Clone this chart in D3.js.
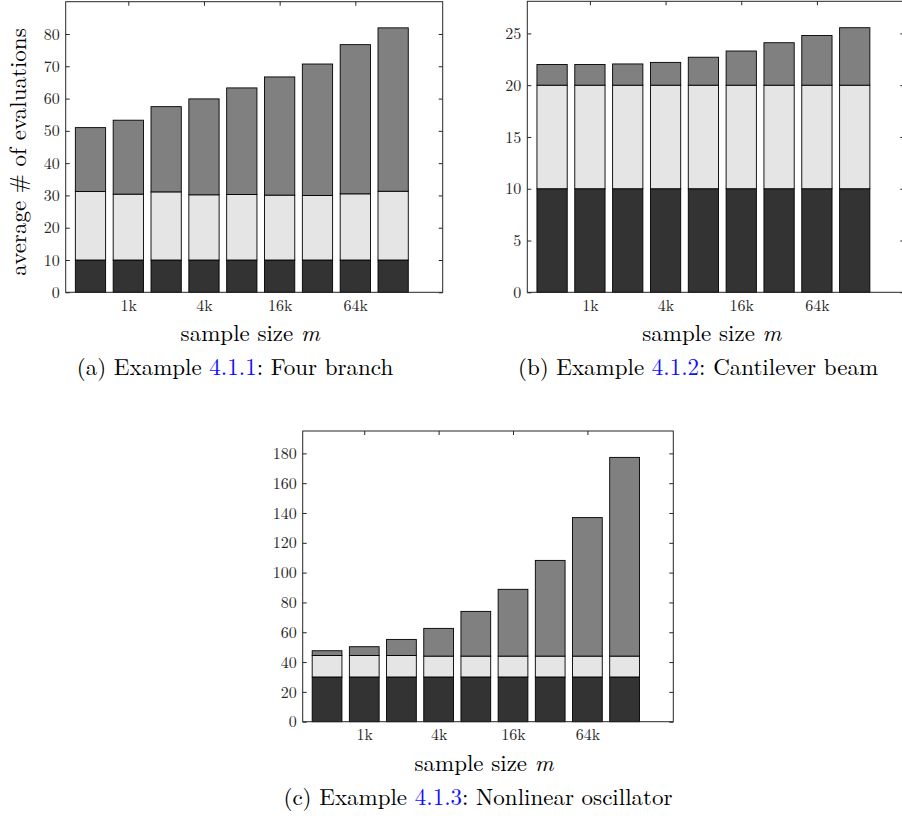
<!DOCTYPE html>
<html>
<head>
<meta charset="utf-8">
<script src="https://cdn.jsdelivr.net/npm/d3@7"></script>
<style>
  body { margin: 0; background: #fff; }
  svg { display: block; font-family: "Latin Modern Roman", "CMU Serif", "Liberation Serif", serif; }
  .axis { font-family: "Latin Modern Roman", "CMU Serif", "Liberation Serif", serif; }
  .axis text { fill: #262626; font-size: 16px; }
  .axis line { stroke: #262626; stroke-width: 1; }
</style>
</head>
<body>
<svg id="fig" width="902" height="818"></svg>
<script>
// one bar per sample size m = 512, 1k, 2k, ..., 128k
var positions = [1, 2, 3, 4, 5, 6, 7, 8, 9];
var tickPositions = [2, 4, 6, 8];
var tickLabels = ["1k", "4k", "16k", "64k"];

// (a) four branch: the three stacked parts of each bar
var fourBranch1 = [10, 10, 10, 10, 10, 10, 10, 10, 10];
var fourBranch2 = [21.2, 20.4, 21.1, 20.2, 20.3, 20.1, 20.0, 20.5, 21.3];
var fourBranch3 = [19.8, 22.9, 26.4, 29.7, 33.0, 36.6, 40.7, 46.2, 50.6];
var fourBranchTicks = [0, 10, 20, 30, 40, 50, 60, 70, 80];

// (b) cantilever beam
var cantilever1 = [10, 10, 10, 10, 10, 10, 10, 10, 10];
var cantilever2 = [10, 10, 10, 10, 10, 10, 10, 10, 10];
var cantilever3 = [2.0, 2.0, 2.05, 2.2, 2.7, 3.3, 4.1, 4.8, 5.55];
var cantileverTicks = [0, 5, 10, 15, 20, 25];

// (c) nonlinear oscillator
var oscillator1 = [30, 30, 30, 30, 30, 30, 30, 30, 30];
var oscillator2 = [14.4, 14.4, 14.4, 14.0, 14.0, 14.0, 14.0, 14.0, 14.0];
var oscillator3 = [3.2, 5.9, 10.8, 18.6, 30.0, 44.8, 64.2, 92.9, 133.3];
var oscillatorTicks = [0, 20, 40, 60, 80, 100, 120, 140, 160, 180];

var colors = ["#333333", "#e5e5e5", "#808080"];
var keys = ["p1", "p2", "p3"];

var svg = d3.select("#fig");

function rows(a, b, c) {
  return positions.map(function(p, i) {
    return {x: p, p1: a[i], p2: b[i], p3: c[i]};
  });
}

function panel(opt) {
  var w = opt.width, h = opt.height;
  var g = svg.append("g")
             .attr("transform", "translate(" + opt.left + "," + opt.top + ")");

  var x = d3.scaleLinear().domain([0.345, 10.31]).range([0, w]);
  var y = d3.scaleLinear().domain([0, opt.ymax]).range([h, 0]);

  // ticks point inward on all four sides
  g.append("g").attr("class", "axis")
   .call(d3.axisLeft(y).tickValues(opt.yticks).tickSizeInner(-4)
           .tickSizeOuter(0).tickPadding(6));
  g.append("g").attr("class", "axis")
   .attr("transform", "translate(" + w + ",0)")
   .call(d3.axisRight(y).tickValues(opt.yticks).tickSizeInner(-4)
           .tickSizeOuter(0).tickFormat(""));
  g.append("g").attr("class", "axis")
   .call(d3.axisTop(x).tickValues(tickPositions).tickSizeInner(-4)
           .tickSizeOuter(0).tickFormat(""));
  g.append("g").attr("class", "axis")
   .attr("transform", "translate(0," + h + ")")
   .call(d3.axisBottom(x).tickValues(tickPositions).tickSizeInner(-4)
           .tickSizeOuter(0).tickPadding(7)
           .tickFormat(function(d, i) { return tickLabels[i]; }));
  g.selectAll(".domain").remove();

  // stacked bars
  var series = d3.stack().keys(keys)(opt.data);
  var bw = x(1.4) - x(0.6);
  g.selectAll(".layer")
   .data(series)
   .enter().append("g")
   .attr("class", "layer")
   .attr("fill", function(d, i) { return colors[i]; })
   .selectAll("rect")
   .data(function(d) { return d; })
   .enter().append("rect")
   .attr("x", function(d) { return x(d.data.x) - bw / 2; })
   .attr("y", function(d) { return y(d[1]); })
   .attr("width", bw)
   .attr("height", function(d) { return y(d[0]) - y(d[1]); })
   .attr("stroke", "#000")
   .attr("stroke-width", 0.9);

  // axes box
  g.append("rect")
   .attr("width", w).attr("height", h)
   .attr("fill", "none")
   .attr("stroke", "#262626")
   .attr("stroke-width", 1);

  // x label
  var xl = g.append("text")
            .attr("x", w / 2 - 4).attr("y", h + 49)
            .attr("text-anchor", "middle")
            .style("font-size", "23px")
            .text("sample size ");
  xl.append("tspan").style("font-style", "italic").text("m");

  if (opt.ylabel) {
    g.append("text")
     .attr("transform", "translate(" + (26 - opt.left) + "," + (h / 2 + 5) + ") rotate(-90)")
     .attr("text-anchor", "middle")
     .style("font-size", "23px")
     .text(opt.ylabel);
  }

  // caption
  var cap = svg.append("text")
               .attr("x", opt.capX).attr("y", opt.top + h + 83)
               .attr("text-anchor", "middle")
               .style("font-size", "23px")
               .text(opt.capA);
  cap.append("tspan").attr("fill", "#1010ff").text(opt.capRef);
  cap.append("tspan").text(opt.capB);
}

panel({left: 65.7, top: 1.7, width: 377, height: 290.6, ymax: 90,
       yticks: fourBranchTicks, data: rows(fourBranch1, fourBranch2, fourBranch3),
       ylabel: "average # of evaluations",
       capX: 235, capA: "(a) Example ", capRef: "4.1.1", capB: ": Four branch"});

panel({left: 527.3, top: 1.3, width: 377, height: 291, ymax: 28.1,
       yticks: cantileverTicks, data: rows(cantilever1, cantilever2, cantilever3),
       capX: 698, capA: "(b) Example ", capRef: "4.1.2", capB: ": Cantilever beam"});

panel({left: 302.7, top: 431, width: 370.6, height: 290.7, ymax: 195,
       yticks: oscillatorTicks, data: rows(oscillator1, oscillator2, oscillator3),
       capX: 478, capA: "(c) Example ", capRef: "4.1.3", capB: ": Nonlinear oscillator"});
</script>
</body>
</html>
